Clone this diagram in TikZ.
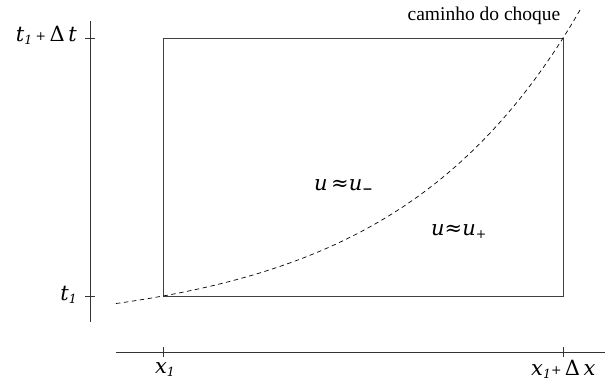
\documentclass[tikz,border=0pt]{standalone}
\usepackage{fontspec}
\newfontfamily\capfont{Liberation Serif}
\newfontfamily\labfont{DejaVu Serif}
\newcommand\lsub[1]{\raisebox{-3.5pt}{\fontsize{12.5}{12.5}\selectfont\itshape #1}}
\newcommand\lplus{\raisebox{1pt}{\fontsize{12.5}{12.5}\selectfont\upshape +}}
\begin{document}
\begin{tikzpicture}[x=1pt,y=-1pt,
  axis/.style={line width=0.9pt,black!80},
  tick/.style={line width=0.9pt,black!80},
  box/.style={line width=0.9pt,black!75},
  shock/.style={line width=0.7pt,dash pattern=on 4.5pt off 3.5pt},
  lab/.style={font=\labfont\itshape\fontsize{21}{23}\selectfont,inner sep=0pt}]
\useasboundingbox (0,0) rectangle (605,386);
% coordinates
\coordinate (vtop) at (90,21);
\coordinate (vbot) at (90,322);
\coordinate (hl) at (116,352);
\coordinate (hr) at (605,352);
\coordinate (A) at (163,296);
\coordinate (B) at (563,296);
\coordinate (C) at (563,38);
\coordinate (D) at (163,38);
% axes
\draw[axis] (vtop) -- (vbot);
\draw[axis] (hl) -- (hr);
% ticks
\draw[tick] (85,38) -- (95,38);
\draw[tick] (85,296) -- (95,296);
\draw[tick] (163,347) -- (163,357);
\draw[tick] (563,347) -- (563,357);
% rectangle
\draw[box] (A) -- (B) -- (C) -- (D) -- cycle;
% shock curve
\draw[shock] plot[domain=116:581,samples=120,smooth] (\x,{296-33.6*(exp(0.0054*(\x-163))-1)});
% labels
\node[lab,anchor=base east] (lt2) at (77,41) {t\lsub{1}\,\lplus\,{\upshape Δ}\,t};
\node[lab,anchor=base east] (lt1) at (77,300) {t\lsub{1}};
\node[lab,anchor=base] (lx1) at (165,373) {x\lsub{1}};
\node[lab,anchor=base west] (lx2) at (531,375) {x\lsub{1}\lplus\,{\upshape Δ}\,x};
\node[lab,anchor=base west] (um) at (314,190) {u\,{\upshape ≈}u\lsub{\upshape\bfseries −}};
\node[lab,anchor=base west] (up) at (431,235) {u{\upshape ≈}u\lsub{\upshape +}};
\node[inner sep=0pt,anchor=base,font=\capfont\fontsize{19.5}{21}\selectfont] (cap) at (484,20) {caminho do choque};
\end{tikzpicture}
\end{document}
